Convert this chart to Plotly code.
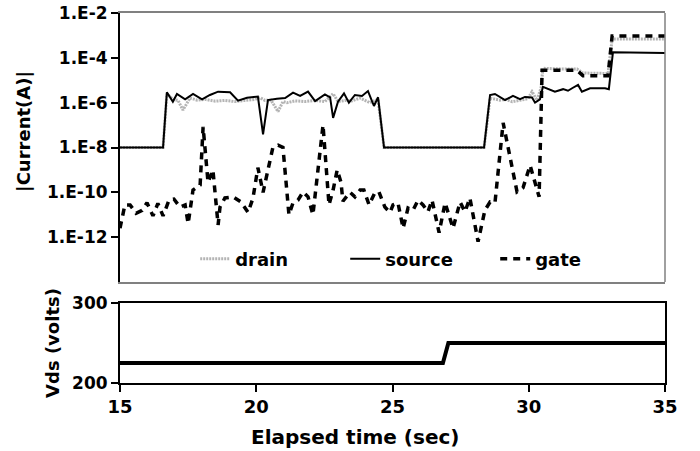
import plotly.graph_objects as go

# ---- data ----
src_t = [15.00, 16.58, 16.72, 16.94, 17.09, 17.39, 17.68, 18.01, 18.30, 18.60, 19.04, 19.33, 19.66,
         20.06, 20.25, 20.43, 20.76, 21.06, 21.35, 21.61, 21.90, 22.16, 22.52, 22.71, 22.82, 23.00,
         23.22, 23.40, 23.62, 23.88, 24.10, 24.32, 24.47, 24.69, 28.36, 28.58, 28.76, 29.13, 29.42,
         29.68, 29.86, 30.12, 30.23, 30.41, 30.52, 30.96, 31.26, 31.44, 31.59, 31.81, 31.95, 32.25,
         32.80, 32.94, 33.09, 35.00]
source = [1e-8, 1e-8, 2.9e-6, 1.1e-6, 2.45e-6, 1.4e-6, 2.45e-6, 1.4e-6, 2.2e-6, 3.1e-6, 2.9e-6, 1.23e-6, 1.66e-6,
          1.86e-6, 3.9e-8, 1.3e-6, 1.5e-6, 1.6e-6, 2.8e-6, 2.0e-6, 3.1e-6, 1.17e-6, 2.35e-6, 1.74e-6, 2.1e-7, 1.1e-6,
          2.6e-6, 1.0e-6, 2.2e-6, 2.0e-6, 3.3e-6, 7.1e-7, 1.74e-6, 1e-8, 1e-8, 2.2e-6, 2.45e-6, 1.3e-6, 2.0e-6,
          1.45e-6, 1.8e-6, 1.7e-6, 1.0e-6, 1.4e-6, 5.1e-6, 3.1e-6, 4.0e-6, 3.4e-6, 4.4e-6, 6.2e-6, 3.1e-6, 4.4e-6,
          4.4e-6, 4.0e-6, 1.78e-4, 1.66e-4]

drn_t = [15.00, 16.58, 16.72, 16.94, 17.13, 17.31, 17.57, 17.83, 18.12, 18.49, 18.85, 19.22, 19.59, 19.95,
         20.14, 20.32, 20.54, 20.80, 20.98, 21.13, 21.42, 21.79, 22.16, 22.52, 22.82, 23.00, 23.26, 23.51,
         23.81, 24.17, 24.47, 24.69, 28.36, 28.58, 28.94, 29.17, 29.39, 29.75, 29.97, 30.12, 30.30, 30.45,
         30.52, 31.15, 31.77, 31.99, 32.61, 32.91, 33.06, 35.00]
drain = [1e-8, 1e-8, 2.5e-6, 1.4e-6, 1.26e-6, 4.7e-7, 1.6e-6, 1.3e-6, 1.4e-6, 1.17e-6, 1.26e-6, 1.12e-6, 1.26e-6, 1.4e-6,
         1.66e-6, 1.26e-6, 1.3e-6, 4.0e-7, 1.12e-6, 1.0e-6, 1.2e-6, 1.12e-6, 1.26e-6, 1.12e-6, 2.5e-6, 1.12e-6, 1.26e-6, 1.2e-6,
         1.6e-6, 1.0e-6, 1.4e-6, 1e-8, 1e-8, 1.6e-6, 1.3e-6, 1.4e-6, 1.1e-6, 1.4e-6, 1.5e-6, 3.1e-6, 1.3e-6, 4.5e-6,
         3.4e-5, 3.2e-5, 3.2e-5, 2.1e-5, 2.0e-5, 2.0e-5, 6.9e-4, 6.9e-4]

gate_t = [15.00, 15.18, 15.37, 15.59, 15.81, 15.99, 16.21, 16.39, 16.58, 16.80, 16.98, 17.20, 17.39, 17.50,
          17.68, 17.94, 18.05, 18.23, 18.41, 18.60, 18.67, 18.85, 19.15, 19.44, 19.70, 19.88, 20.06, 20.25,
          20.61, 20.80, 20.98, 21.20, 21.35, 21.53, 21.72, 21.90, 22.08, 22.45, 22.67, 22.82, 22.97, 23.11,
          23.18, 23.44, 23.62, 23.81, 23.95, 24.14, 24.36, 24.50, 24.72, 24.91, 25.02, 25.20, 25.39, 25.57,
          25.75, 25.94, 26.12, 26.30, 26.45, 26.71, 26.93, 27.22, 27.48, 27.66, 27.84, 28.14, 28.39, 28.58,
          28.76, 29.06, 29.57, 29.79, 30.05, 30.38, 30.49, 31.77, 31.99, 32.91, 33.06, 35.00]
gate = [2.5e-12, 2.75e-11, 2.75e-11, 1.17e-11, 1.58e-11, 3.4e-11, 8.9e-12, 3.2e-11, 8.9e-12, 4.5e-11, 5.0e-11, 2.2e-11, 2.75e-11, 4.0e-12,
        1.26e-10, 2.1e-10, 8.3e-8, 2.8e-10, 1.0e-9, 3.5e-12, 2.2e-11, 5.6e-11, 6.3e-11, 3.7e-11, 1.26e-11, 5.5e-11, 1.26e-9, 1.0e-10,
        1.0e-8, 1.26e-8, 1.0e-8, 1.0e-11, 3.4e-11, 4.5e-11, 1.05e-10, 6.3e-11, 1.0e-11, 1.0e-7, 2.75e-11, 1.26e-10, 1.0e-9, 2.8e-10,
        4.0e-11, 1.0e-10, 6.3e-11, 1.26e-10, 1.26e-10, 2.75e-11, 1.0e-10, 1.05e-10, 2.2e-11, 1.26e-11, 2.75e-11, 3.4e-11, 2.5e-12, 2.0e-11,
        1.58e-11, 4.5e-11, 2.75e-11, 1.35e-11, 4.5e-11, 1.6e-12, 3.4e-11, 2.5e-12, 3.7e-11, 1.35e-11, 5.6e-11, 6.3e-13, 1.58e-11, 3.7e-11,
        3.4e-11, 1.26e-7, 1.05e-10, 1.6e-10, 1.6e-9, 6.3e-11, 2.8e-5, 2.8e-5, 1.6e-5, 1.6e-5, 9.5e-4, 9.5e-4]

vds_t = [15.0, 26.85, 27.05, 35.0]
vds = [225, 225, 250, 250]

current_ticks = [1e-2, 1e-4, 1e-6, 1e-8, 1e-10, 1e-12]
current_tick_text = ["1.E-2", "1.E-4", "1.E-6", "1.E-8", "1.E-10", "1.E-12"]
time_ticks = [15, 20, 25, 30, 35]
vds_ticks = [200, 300]

FONT = "DejaVu Sans"

fig = go.Figure()
fig.add_trace(go.Scatter(x=drn_t, y=drain, name="drain", mode="lines",
                         line=dict(color="#b4b4b4", width=3, dash="2px,1px"),
                         xaxis="x", yaxis="y"))
fig.add_trace(go.Scatter(x=src_t, y=source, name="source", mode="lines",
                         line=dict(color="black", width=2),
                         xaxis="x", yaxis="y"))
fig.add_trace(go.Scatter(x=gate_t, y=gate, name="gate", mode="lines",
                         line=dict(color="black", width=3.5, dash="7px,6px"),
                         xaxis="x", yaxis="y"))
fig.add_trace(go.Scatter(x=vds_t, y=vds, name="Vds", mode="lines", showlegend=False,
                         line=dict(color="black", width=4),
                         xaxis="x2", yaxis="y2"))

tick_font = dict(family=FONT, size=17, color="black", weight="bold")

fig.update_layout(
    width=700, height=451,
    margin=dict(l=120, r=35, t=13, b=68, autoexpand=False),
    paper_bgcolor="white", plot_bgcolor="white",
    showlegend=True,
    legend=dict(orientation="h", x=0.138, y=0.335, xref="paper", yref="paper",
                xanchor="left", yanchor="middle", bgcolor="rgba(0,0,0,0)",
                font=dict(family=FONT, size=18, color="black", weight="bold"),
                entrywidth=105, entrywidthmode="pixels", itemwidth=30),
    xaxis=dict(domain=[0, 1], range=[15, 35], anchor="y", showticklabels=False, ticks="",
               showgrid=False, zeroline=False, showline=True, linecolor="#808080",
               linewidth=1.5, mirror=True),
    yaxis=dict(domain=[0.273, 1], type="log", range=[-14, -2], anchor="x",
               tickvals=current_ticks, ticktext=current_tick_text, tickfont=tick_font,
               ticks="outside", ticklen=7, tickwidth=1.5, tickcolor="black",
               showgrid=False, zeroline=False, showline=True, linecolor="black", linewidth=2),
    xaxis2=dict(domain=[0, 1], range=[15, 35], anchor="y2", tickvals=time_ticks,
                tickfont=dict(family=FONT, size=18, color="black", weight="bold"),
                ticks="outside", ticklen=7, tickwidth=1.5, tickcolor="black",
                showgrid=False, zeroline=False, showline=True, linecolor="black",
                linewidth=1.5, mirror=True),
    yaxis2=dict(domain=[0, 0.216], range=[200, 300], anchor="x2", tickvals=vds_ticks,
                tickfont=tick_font, ticks="outside", ticklen=7, tickwidth=1.5, tickcolor="black",
                showgrid=False, zeroline=False, showline=True, linecolor="black",
                linewidth=2, mirror=True),
    shapes=[dict(type="line", xref="x domain", yref="y domain", x0=1, x1=1, y0=0, y1=1,
                 line=dict(color="#808080", width=1.5))],
    annotations=[
        dict(text="|Current(A)|", xref="paper", yref="paper", x=-0.177, y=0.68,
             textangle=-90, showarrow=False, xanchor="center", yanchor="middle",
             font=dict(family=FONT, size=18, color="black", weight="bold")),
        dict(text="Vds (volts)", xref="paper", yref="paper", x=-0.125, y=0.108,
             textangle=-90, showarrow=False, xanchor="center", yanchor="middle",
             font=dict(family=FONT, size=18, color="black", weight="bold")),
        dict(text="Elapsed time (sec)", xref="paper", yref="paper", x=0.431, y=-0.147,
             showarrow=False, xanchor="center", yanchor="middle",
             font=dict(family=FONT, size=20, color="black", weight="bold")),
    ],
)

fig.write_html("out.html", config={"displayModeBar": False},
               post_script="document.body.style.margin='0';")
